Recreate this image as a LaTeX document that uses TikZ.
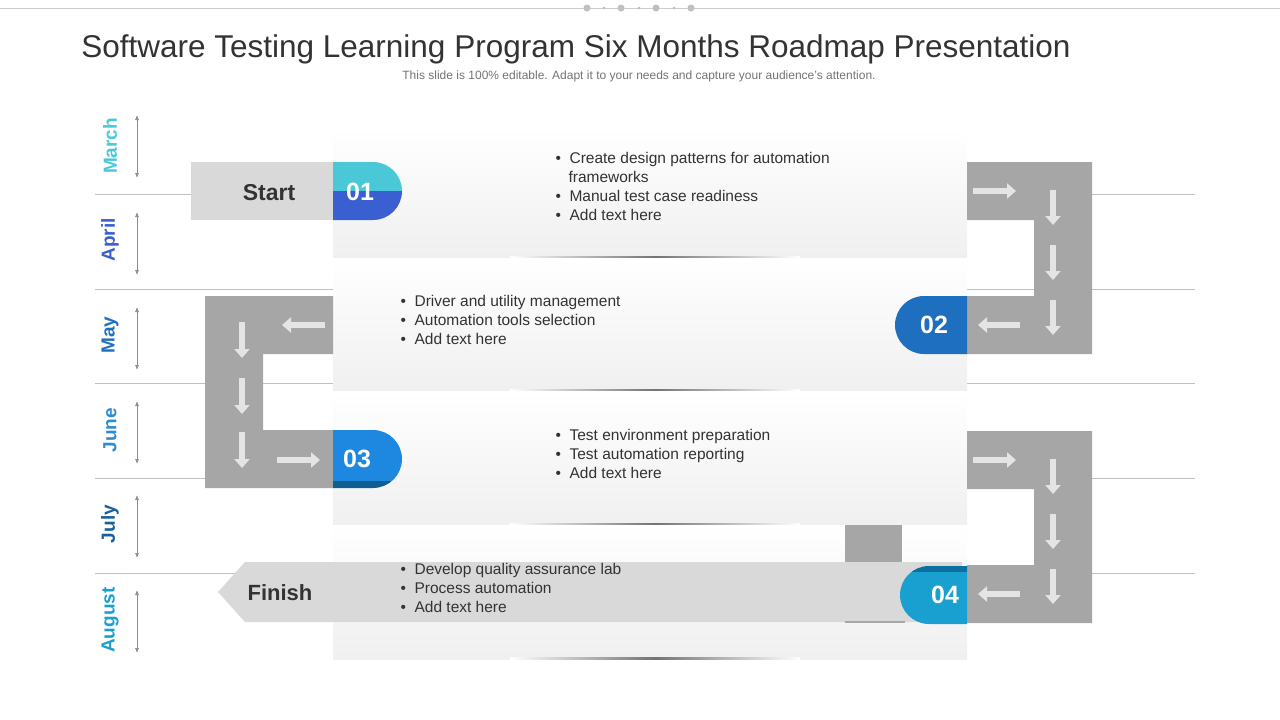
\documentclass[tikz,border=0pt]{standalone}
\usepackage{fontspec}
\setmainfont{Liberation Sans}
\usetikzlibrary{arrows.meta}
\definecolor{cMar}{HTML}{4BC8D8}
\definecolor{cApr}{HTML}{3A5FD0}
\definecolor{cMay}{HTML}{1F6FC0}
\definecolor{cJun}{HTML}{2E8BD0}
\definecolor{cJul}{HTML}{1A5F9A}
\definecolor{cAug}{HTML}{1AA0D0}
\definecolor{cThree}{HTML}{1E88E0}
\definecolor{cThreeB}{HTML}{0E5E90}
\definecolor{cFourTop}{HTML}{0B6FA0}
\definecolor{conn}{HTML}{A6A6A6}
\definecolor{arr}{HTML}{E4E4E4}
\definecolor{boxg}{HTML}{D9D9D9}
\definecolor{txt}{HTML}{333333}
\tikzset{
 month/.style={rotate=90,font=\bfseries\fontsize{19}{21}\selectfont},
 dbl/.style={{Latex[length=5pt,width=4pt]}-{Latex[length=5pt,width=4pt]},draw=gray!90,line width=0.7pt},
 blk/.style={-{Triangle[length=9pt,width=15pt]},draw=arr,line width=6pt},
 bullets/.style={anchor=north west,align=left,text=txt,font=\fontsize{15.5}{19}\selectfont},
 badge/.style={text=white,font=\bfseries\fontsize{25}{27}\selectfont},
 panel/.style={top color=white,bottom color=black!6,draw=none},
 sep/.style={draw=black!25,line width=0.6pt}
}
\begin{document}
\begin{tikzpicture}[x=1pt,y=-1pt]
\useasboundingbox (0,0) rectangle (1280,720);
% top rule
\draw[black!20,line width=0.6pt] (0,8) -- (1280,8);
\foreach \xx/\r in {587/3.5,604/1.5,621/3.5,639/1.5,656/3.5,674/1.5,691/3.5}{\fill[black!25] (\xx,8) circle (\r);}
\node (title) at (576,49) {\fontsize{31.5}{34}\selectfont\color{txt}Software Testing Learning Program Six Months Roadmap Presentation};
\node (sub) at (639,76) {\fontsize{12}{14}\selectfont\color{black!55}This slide is 100\% editable. Adapt it to your needs and capture your audience's attention.};
% separators
\foreach \yy in {194,289,383,478,573}{\draw[sep] (95,\yy) -- (1195,\yy);}
% months
\node[month,text=cMar] (m1) at (110,146) {March};
\node[month,text=cApr] (m2) at (110,240) {April};
\node[month,text=cMay] (m3) at (110,335) {May};
\node[month,text=cJun] (m4) at (110,430) {June};
\node[month,text=cJul] (m5) at (110,524) {July};
\node[month,text=cAug] (m6) at (110,620) {August};
\foreach \ya/\yb in {115/178,212/275,307/370,401/464,495/558,590/653}{\draw[dbl] (137,\ya) -- (137,\yb);}
% panels
\foreach \ya/\yb in {128/258,258/391,391/525,525/659}{
 \shade[panel] (333,\ya) rectangle (967,\yb);
 \shade[left color=white,right color=white,middle color=black!55] (510,\yb-1.2) rectangle (800,\yb+0.6);
}
% connectors
\fill[conn] (967,162) -- (1092,162) -- (1092,354) -- (967,354) -- (967,296) -- (1034,296) -- (1034,220) -- (967,220) -- cycle;
\fill[conn] (967,431) -- (1092,431) -- (1092,623) -- (967,623) -- (967,565) -- (1034,565) -- (1034,489) -- (967,489) -- cycle;
\fill[conn] (333,296) -- (205,296) -- (205,488) -- (333,488) -- (333,430) -- (263,430) -- (263,354) -- (333,354) -- cycle;
\foreach \dy in {0,269}{
 \draw[blk] (973,191+\dy) -- (1016,191+\dy);
 \foreach \yy in {190,245,300}{\draw[blk] (1053,\yy+\dy) -- (1053,\yy+35+\dy);}
 \draw[blk] (1020,325+\dy) -- (978,325+\dy);
}
\draw[blk] (325,325) -- (282,325);
\foreach \yy in {322,378,432}{\draw[blk] (242,\yy) -- (242,\yy+36);}
\draw[blk] (277,460) -- (320,460);
% finish
\fill[conn] (845,525) rectangle (902,562);
\fill[boxg] (218,592) -- (245,562) -- (962,562) -- (962,622) -- (245,622) -- cycle;
\draw[conn,line width=1.2pt] (845,622) -- (905,622);
\node[font=\bfseries\fontsize{22}{24}\selectfont,text=txt] (finish) at (280,593) {Finish};
% start
\fill[boxg] (191,162) rectangle (333,220);
\node[font=\bfseries\fontsize{23}{25}\selectfont,text=txt] (start) at (269,193) {Start};
% badges
\begin{scope}
 \clip (333,162) -- (373,162) arc[start angle=-90,end angle=90,radius=29] -- (333,220) -- cycle;
 \fill[cMar] (330,160) rectangle (410,191);
 \fill[cApr] (330,191) rectangle (410,225);
\end{scope}
\node[badge] (b1) at (360,192) {01};
\fill[cMay] (967,296) -- (924,296) arc[start angle=-90,end angle=-270,radius=29] -- (967,354) -- cycle;
\node[badge] (b2) at (934,325) {02};
\begin{scope}
 \clip (333,430) -- (373,430) arc[start angle=-90,end angle=90,radius=29] -- (333,488) -- cycle;
 \fill[cThree] (330,428) rectangle (410,481);
 \fill[cThreeB] (330,481) rectangle (410,492);
\end{scope}
\node[badge] (b3) at (357,459) {03};
\begin{scope}
 \clip (967,566) -- (929,566) arc[start angle=-90,end angle=-270,radius=29] -- (967,624) -- cycle;
 \fill[cFourTop] (895,560) rectangle (970,572);
 \fill[cAug] (895,572) rectangle (970,628);
\end{scope}
\node[badge] (b4) at (945,595) {04};
% bullets
\node[bullets] (t1) at (552,149) {•\ \ Create design patterns for automation\\\hspace*{13pt}frameworks\\•\ \ Manual test case readiness\\•\ \ Add text here};
\node[bullets] (t2) at (397,292) {•\ \ Driver and utility management\\•\ \ Automation tools selection\\•\ \ Add text here};
\node[bullets] (t3) at (552,426) {•\ \ Test environment preparation\\•\ \ Test automation reporting\\•\ \ Add text here};
\node[bullets] (t4) at (397,560) {•\ \ Develop quality assurance lab\\•\ \ Process automation\\•\ \ Add text here};
\end{tikzpicture}
\end{document}
